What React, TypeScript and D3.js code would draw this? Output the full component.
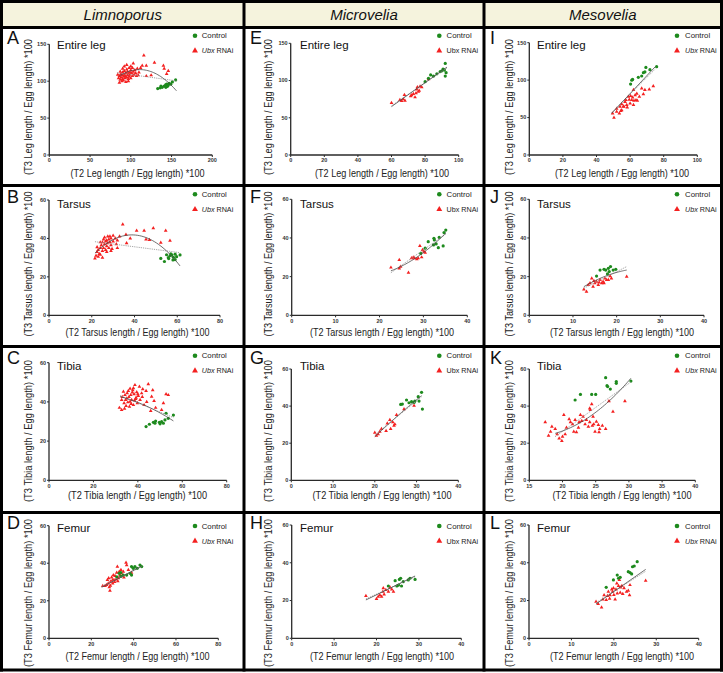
import React from "react";
import * as d3 from "d3";

type P = [number, number];

// ---------- labels ----------
const speciesNames = ["Limnoporus", "Microvelia", "Mesovelia"];
const segmentTitles = ["Entire leg", "Tarsus", "Tibia", "Femur"];
const segmentWords = ["Leg", "Tarsus", "Tibia", "Femur"];
const panelLetters = [
  ["A", "E", "I"],
  ["B", "F", "J"],
  ["C", "G", "K"],
  ["D", "H", "L"],
];
const legendControl = "Control";
const legendUbx = "Ubx";
const legendRnai = "RNAi";

// ---------- axis ticks ----------
const xTicksA = [0, 50, 100, 150, 200];
const yTicksRow1 = [0, 50, 100, 150];
const xTicks0to100 = [0, 20, 40, 60, 80, 100];
const xTicks0to80 = [0, 20, 40, 60, 80];
const xTicks0to40 = [0, 10, 20, 30, 40];
const xTicksK = [15, 20, 25, 30, 35, 40];
const yTicks0to60 = [0, 20, 40, 60];

// ---------- data (T2 ratio, T3 ratio) ----------
const controlA: P[] = [[133,90],[136,91],[137,93.5],[138.5,91.7],[141,93.5],[142.7,95],[143,91.7],[144,96],[146,95],[147,97],[149,96],[151,99],[155,101.7],[145,93]];
const rnaiA: P[] = [[85,104],[86,107],[87,102],[88,105],[88,110],[89,100],[89,108],[90,103],[90,112],[91,106],[91,101],[92,109],[92,114],[93,104],[93,107],[94,111],[94,99],[95,105],[95,116],[96,108],[96,113],[97,103],[97,110],[98,118],[98,106],[99,112],[99,109],[100,115],[100,104],[101,111],[102,107],[102,118],[103,113],[104,109],[105,115],[106,111],[107,107],[108,117],[110,112],[87,113],[90,117],[92,120],[95,122],[97,100],[100,120],[103,124],[109,108],[114,121],[116,135],[119,121],[119,107],[125,108],[129,125],[140,121],[141,117],[144,110],[146,114],[112,118],[84,109],[86,98]];
const fitSolidA: P[] = [[86,107],[115,115.5],[156,87]];
const fitDotA: P[] = [[83,111.5],[156,100.5]];

const controlE: P[] = [[80,98.5],[82,103],[83.3,107.5],[85,106],[87,109],[90,113],[90.7,115.5],[91.5,114],[92,123],[92,106],[92.5,110.6],[89,112]];
const rnaiE: P[] = [[60,70],[65,74],[66,72.5],[67,75],[67.7,80.6],[71.4,79],[73,82],[74,77.5],[74.6,83],[75,88],[75.4,91],[76,85],[77,92],[78,91],[82,101.7],[68,73],[72,80.5],[76.5,86.5]];
const fitSolidE: P[] = [[60,65],[93,118]];
const fitDotE: P[] = [[60,66],[93,117]];

const controlI: P[] = [[60.3,94.8],[61,100],[61.5,101],[64.9,103.7],[66.9,105.5],[67.9,110],[68.8,111],[69.4,117],[71.8,114],[75.8,118]];
const rnaiI: P[] = [[49.6,55.6],[50.4,50],[52,62],[54,64.5],[55,68],[56,65],[57,71],[57.5,73.4],[59,78],[59.5,74],[60.3,78.8],[61,73.4],[61.5,77],[62,86.8],[62.3,72.5],[63,80],[64,82],[64.3,72.5],[65.5,78],[66.9,89],[67.9,81.4],[68.8,86.8],[71.4,87.7],[73.8,92],[52,58],[53.6,55.6],[55,60],[56.3,64.5],[58.3,63.6],[60,69],[62,66.8],[63.5,73.4],[58,67],[54.5,59]];
const fitSolidI: P[] = [[49,55.6],[75,118]];
const fitDotI: P[] = [[49,56.5],[75,115]];

const controlB: P[] = [[52.3,29.6],[54,28],[55.8,30],[56.6,31],[57.4,31.4],[58.2,30.2],[59,29],[59.7,30.5],[61.3,31.4],[56,29.5],[57,32],[58,28.8],[55,31.5],[59,31.8]];
const rnaiB: P[] = [[21.5,29.6],[22,31],[22.5,33],[23,30.5],[23,34],[23.5,32],[24,35],[24,31.5],[24.5,36.5],[25,33.5],[25,38],[25.5,35],[25.5,39.5],[26,37],[26,40.5],[26.5,34],[26.5,38.5],[27,36],[27,39],[27.5,41],[27.5,37.5],[28,35],[28,39.5],[28.5,38],[28.5,41],[29,36.5],[29,40],[29.5,34.5],[30,38.5],[30,41.5],[31,40],[31.5,37],[32,39],[33,41],[34.5,47.3],[36.3,37.5],[36,42],[38,40],[41,44],[44.5,44],[45.4,39.5],[47,39.2],[48.8,45.3],[52.3,37.8],[54.6,44],[56.6,38.8],[24,38],[22.5,35.5],[25,30],[27,33],[29,33.5],[32,35]];
const fitSolidB: P[] = [[21.5,32.3],[40,41.8],[61.3,25.7]];
const fitDotB: P[] = [[21.5,38.3],[61.3,32.6]];

const controlF: P[] = [[29.4,32],[30.4,34.7],[31.1,38.1],[32.3,36.4],[32.4,39.8],[32.5,39],[32.9,36.9],[33.4,35],[33.6,40.3],[34.5,35.9],[34.7,42.8],[35.1,44.1]];
const rnaiF: P[] = [[22.6,24.7],[24.5,28.6],[24.5,24.3],[24.8,25.2],[26.6,22],[27.3,29.5],[27.7,30],[28,29.5],[28.5,29],[28.8,29.5],[29.2,35.9],[29.6,30],[29.8,33.8],[30.1,33],[30.4,32.4]];
const fitSolidF: P[] = [[22.6,23],[28.8,30.5],[35.1,42.5]];
const fitDotF: P[] = [[22.6,22],[35.1,42]];

const controlJ: P[] = [[15.4,20.3],[16.2,23.4],[17.1,23.8],[17.5,23.4],[18.1,24.3],[18.3,22.6],[18.6,25.2],[19.2,23.4],[19.8,23.8],[17.9,21.4]];
const rnaiJ: P[] = [[12.5,13.4],[13.1,12.2],[13.5,15.7],[13.9,16.6],[14.3,19.1],[14.6,14.8],[15,16.6],[15.4,17.4],[15.8,15.7],[16.2,18.3],[16.6,16.6],[16.9,17.4],[17.3,19.1],[17.7,18.3],[18.1,18.3],[18.5,20.3],[18.8,19.1],[17.1,16.6],[16,17],[14.8,17.8],[22.3,20]];
const fitSolidJ: P[] = [[12.5,14.8],[17.5,20.3],[22.3,23.4]];
const fitDotJ: P[] = [[12.5,14],[22.3,25.2]];

const controlC: P[] = [[43.7,27.4],[45.2,28.6],[47,29.6],[47.7,29.1],[49.7,29.6],[50.7,29.9],[51.5,29.1],[52.2,30.8],[53.7,31.6],[52.7,34.2],[56,33.3],[48,30.2],[50,28.8]];
const rnaiC: P[] = [[31.7,37],[32.7,35.9],[32.7,41],[33.5,45.2],[33.8,39.3],[34.2,43.5],[34.7,38],[35,41.8],[35.2,44.5],[35.7,45.6],[36.2,37.6],[36.5,40.1],[36.8,43.5],[37.2,41],[37.5,44.8],[37.7,46],[38,38.4],[38.3,43.9],[38.7,48.6],[39,41.5],[39.2,42.2],[39.5,45],[39.8,39.3],[40.2,43],[40.7,47.8],[41,41],[41.7,44.4],[42.2,46.5],[42.8,38.4],[43.7,45.6],[44.7,49],[45.8,35.4],[46.2,42.7],[46.7,46],[47.3,40.5],[50.7,35.9],[51.5,39.3],[52.7,43.9],[53.7,43.5],[34,36.5],[35.5,39.8],[36,42.5],[37,39],[38.5,40.8],[40,44],[33,42.5],[34.5,41],[36.5,46.8],[38,47],[42,42.5],[44,40],[48,37]];
const fitSolidC: P[] = [[32,42.7],[44,37.8],[56,30.3]];
const fitDotC: P[] = [[32,43.2],[56,32]];

const controlG: P[] = [[26.2,40.9],[26.6,41.1],[27.6,43.3],[28.8,42.4],[29.4,42],[29.6,42.7],[30.4,45.1],[30.6,42.7],[31.2,47.4],[31.4,38.4],[28.2,41.8]];
const rnaiG: P[] = [[20,25.7],[20.4,24],[20.8,24.8],[21.2,26.2],[21.6,27.7],[22.7,26.6],[23,30.7],[23.6,32.5],[23.8,27.7],[24.3,31.3],[24.6,29.5],[24.8,30.2],[25.2,35.2],[27,38.4],[29.4,40.2]];
const fitSolidG: P[] = [[20,23.5],[25.6,35],[31.2,45.6]];
const fitDotG: P[] = [[20,24.5],[31.2,45]];

const controlK: P[] = [[21.9,43.3],[22.7,46.3],[24.4,46.3],[25,46.3],[26.5,55.3],[26.7,51],[26.8,50.5],[27.2,49.2],[28.1,53.2],[28.1,52.3],[30.3,53.5]];
const rnaiK: P[] = [[17.4,31.3],[17.9,24.1],[18.2,26.2],[18.4,28.9],[18.9,27.7],[19.2,24.8],[19.5,22.6],[19.9,21.2],[20,23.5],[20.2,35.2],[20.4,24.8],[20.6,28.4],[21,33],[21.2,31.3],[21.5,30.2],[21.7,26.2],[21.9,32.5],[22.1,25.9],[22.4,28.4],[22.5,31.3],[22.7,35.2],[22.9,32],[23.1,34.3],[23.4,30.2],[23.6,32.5],[23.9,28.9],[24.1,31.3],[24.5,29.5],[24.6,34.3],[24.7,30.2],[24.9,26.2],[25.1,31.6],[25.4,29.8],[25.5,25.9],[25.6,27.7],[26,29.5],[26.5,27.7],[24.1,38.8],[24.4,41],[24.2,37.9],[27,42.7],[27.6,37],[29.4,42.7]];
const fitSolidK: P[] = [[18.9,25.3],[24.6,35.6],[30.3,55]];
const fitDotK: P[] = [[18.9,23.5],[30.3,53]];

const controlD: P[] = [[32,32.8],[33.2,34.6],[33.9,35],[35.1,33.7],[36.7,33.7],[38.3,34.6],[39,33.7],[39.8,37.3],[40.6,38.2],[41.7,37.3],[43,39],[43.8,38.2],[39,38.2],[34,33]];
const rnaiD: P[] = [[25.4,27.9],[26.5,27.9],[27.2,28.4],[27.6,31.1],[28,29.3],[28.5,27.2],[28.8,25.4],[29.1,30.2],[29.6,32.5],[30.1,29.3],[30.4,33.7],[30.7,31.1],[31.2,33.2],[31.7,31.4],[32,35],[32.3,38.2],[32.8,32],[33.2,35.5],[33.5,33.7],[34.3,34.6],[35.1,35.5],[35.4,32.5],[36.4,40.3],[36.7,39],[37.5,36.4],[39,35],[29,28],[30,31],[31,30],[28.2,32],[32.5,30.5],[34,36.5]];
const fitSolidD: P[] = [[24.9,27.2],[43.8,38.5]];
const fitDotD: P[] = [[24.9,27.6],[43.8,38.2]];

const controlH: P[] = [[22.8,27.7],[24.4,30.5],[24.8,27.7],[25.2,28.2],[25.4,31.2],[25.7,31.8],[25.9,27.7],[26.3,30],[27.5,30.9],[27.9,31.8],[29.1,31.2]];
const rnaiH: P[] = [[17.5,22.4],[20,20.8],[20.4,22.1],[20.8,22.9],[21.2,22.1],[21.5,24.7],[21.6,26.5],[21.8,23.3],[22.2,25.6],[22.8,24.7],[23.2,27],[23.6,25.9],[24,24.7]];
const fitSolidH: P[] = [[17.5,20.3],[29.1,33]];
const fitDotH: P[] = [[17.5,20.8],[29.1,32.6]];

const controlL: P[] = [[18.2,27],[19.9,30.9],[20.8,33.5],[21.1,31.8],[21.5,32.3],[23.4,35.3],[23.8,34.8],[24.2,34.1],[24.4,37.9],[24.8,38.3],[25.5,40.6]];
const rnaiL: P[] = [[15.8,19.4],[16.3,18.2],[17.1,16.4],[17.4,20.6],[17.7,22.9],[18.2,20.3],[18.5,22.4],[18.7,24.7],[19.1,22.9],[19.5,25.9],[19.7,24.7],[19.9,26.5],[20.3,20.6],[20.5,25.9],[20.7,29.1],[20.8,23.8],[21.1,27.7],[21.3,30.9],[21.5,24.2],[21.6,27],[21.9,27.7],[22.1,23.5],[22.4,26.5],[23,24.7],[23.4,25.2],[23.7,22.9],[23.8,28.2],[27.5,30.5],[19,21],[20,23]];
const fitSolidL: P[] = [[15.8,18.2],[27.5,36.5]];
const fitDotL: P[] = [[15.8,18.8],[27.5,35.5]];

// ---------- panel specs (row-major) ----------
const panelData = [
  [
    { control: controlA, rnai: rnaiA, solid: fitSolidA, dot: fitDotA, xDomain: [0, 200], yDomain: [0, 150], xTicks: xTicksA, yTicks: yTicksRow1 },
    { control: controlE, rnai: rnaiE, solid: fitSolidE, dot: fitDotE, xDomain: [0, 100], yDomain: [0, 150], xTicks: xTicks0to100, yTicks: yTicksRow1 },
    { control: controlI, rnai: rnaiI, solid: fitSolidI, dot: fitDotI, xDomain: [0, 100], yDomain: [0, 150], xTicks: xTicks0to100, yTicks: yTicksRow1 },
  ],
  [
    { control: controlB, rnai: rnaiB, solid: fitSolidB, dot: fitDotB, xDomain: [0, 80], yDomain: [0, 60], xTicks: xTicks0to80, yTicks: yTicks0to60 },
    { control: controlF, rnai: rnaiF, solid: fitSolidF, dot: fitDotF, xDomain: [0, 40], yDomain: [0, 60], xTicks: xTicks0to40, yTicks: yTicks0to60 },
    { control: controlJ, rnai: rnaiJ, solid: fitSolidJ, dot: fitDotJ, xDomain: [0, 40], yDomain: [0, 60], xTicks: xTicks0to40, yTicks: yTicks0to60 },
  ],
  [
    { control: controlC, rnai: rnaiC, solid: fitSolidC, dot: fitDotC, xDomain: [0, 80], yDomain: [0, 60], xTicks: xTicks0to80, yTicks: yTicks0to60 },
    { control: controlG, rnai: rnaiG, solid: fitSolidG, dot: fitDotG, xDomain: [0, 40], yDomain: [0, 60], xTicks: xTicks0to40, yTicks: yTicks0to60 },
    { control: controlK, rnai: rnaiK, solid: fitSolidK, dot: fitDotK, xDomain: [15, 40], yDomain: [0, 60], xTicks: xTicksK, yTicks: yTicks0to60 },
  ],
  [
    { control: controlD, rnai: rnaiD, solid: fitSolidD, dot: fitDotD, xDomain: [0, 80], yDomain: [0, 60], xTicks: xTicks0to80, yTicks: yTicks0to60 },
    { control: controlH, rnai: rnaiH, solid: fitSolidH, dot: fitDotH, xDomain: [0, 40], yDomain: [0, 60], xTicks: xTicks0to40, yTicks: yTicks0to60 },
    { control: controlL, rnai: rnaiL, solid: fitSolidL, dot: fitDotL, xDomain: [0, 40], yDomain: [0, 60], xTicks: xTicks0to40, yTicks: yTicks0to60 },
  ],
];

// ---------- layout (pixels) ----------
const W = 723;
const H = 673;
const FONT = "'Liberation Sans', Arial, sans-serif";
const plotX = [
  [[49.3, 212.3], [290.7, 458.7], [529.3, 697.3]],
  [[49, 220], [291.7, 467.3], [529.3, 704]],
  [[49, 226.7], [291.3, 458.3], [529.3, 695.3]],
  [[49, 218.3], [291.7, 461.3], [529, 698.7]],
];
const plotY = [
  [[155, 44.3], [155, 43.3], [155, 42.7]],
  [[315.3, 200], [315.3, 199.3], [315.3, 199.3]],
  [[480.3, 362.7], [480.3, 369], [480.3, 369]],
  [[638.3, 525.7], [638.3, 525], [638.3, 525]],
];
const colLetterX = [7, 250, 490];
const colTitleX = [57, 300, 537];
const colLegendMarkX = [195, 439.3, 677];
const colLegendTextX = [201.7, 446.5, 685];
const colYTitleX = [28.5, 268, 509];
const colXTitleX = [137.5, 382, 622];
const rowLetterY = [43.5, 203, 363.5, 529];
const rowTitleY = [49, 207.5, 369.5, 532];
const rowLegendY = [35.7, 194.3, 355.7, 526];
const rowYTitleY = [107, 264, 431, 593];
const rowXTitleY = [173, 332.3, 495.7, 656];
const xTitleLen = [134, 144, 139, 144];
const yTitleLen = [136, 145, 142, 148];
const colDividers = [1.5, 244, 484, 721.5];
const rowDividers = [1.5, 27.5, 185.5, 346.5, 512.5, 670];

const RED = "#f42020";
const GREEN = "#1d8a1d";

function fitPath(pts: P[], x: d3.ScaleLinear<number, number>, y: d3.ScaleLinear<number, number>) {
  const line = d3.line<P>().x((d) => x(d[0])).y((d) => y(d[1]));
  if (pts.length < 3) return line(pts) || "";
  // quadratic through the three read points
  const [[x0, y0], [x1, y1], [x2, y2]] = pts;
  const f = (t: number) =>
    (y0 * (t - x1) * (t - x2)) / ((x0 - x1) * (x0 - x2)) +
    (y1 * (t - x0) * (t - x2)) / ((x1 - x0) * (x1 - x2)) +
    (y2 * (t - x0) * (t - x1)) / ((x2 - x0) * (x2 - x1));
  const samples: P[] = d3.range(0, 41).map((i) => {
    const t = x0 + ((x2 - x0) * i) / 40;
    return [t, f(t)];
  });
  return line(samples) || "";
}

const pointTriangle = d3.symbol().type(d3.symbolTriangle).size(6)() || "";
const legendTriangle = d3.symbol().type(d3.symbolTriangle).size(15)() || "";

function Panel({ r, c }: { r: number; c: number }) {
  const pd = panelData[r][c];
  const x = d3.scaleLinear().domain(pd.xDomain).range(plotX[r][c]);
  const y = d3.scaleLinear().domain(pd.yDomain).range(plotY[r][c]);
  const x0 = x(pd.xDomain[0]);
  const x1 = x(pd.xDomain[1]);
  const y0 = y(pd.yDomain[0]);
  const y1 = y(pd.yDomain[1]);
  const italicUbx = c !== 1;
  const axisColor = "#2a2a2a";
  const ly = rowLegendY[r];
  return (
    <g>
      <text x={colLetterX[c]} y={rowLetterY[r]} fontFamily={FONT} fontSize={18} fill="#111">
        {panelLetters[r][c]}
      </text>
      <text x={colTitleX[c]} y={rowTitleY[r]} fontFamily={FONT} fontSize={11.5} fill="#111">
        {segmentTitles[r]}
      </text>
      {/* legend */}
      <circle cx={colLegendMarkX[c]} cy={ly} r={2.3} fill={GREEN} />
      <text x={colLegendTextX[c]} y={ly} dy="0.35em" fontFamily={FONT} fontSize={7.8} fill="#222">
        {legendControl}
      </text>
      <path d={legendTriangle} transform={`translate(${colLegendMarkX[c]},${ly + 15})`} fill={RED} />
      <text x={colLegendTextX[c]} y={ly + 15} dy="0.35em" fontFamily={FONT} fontSize={7.2} fill="#222">
        <tspan fontStyle={italicUbx ? "italic" : "normal"}>{legendUbx}</tspan> {legendRnai}
      </text>
      {/* axis titles */}
      <text
        transform={`translate(${colYTitleX[c]},${rowYTitleY[r]}) rotate(-90)`}
        textAnchor="middle"
        dy="0.35em"
        fontFamily={FONT}
        fontSize={10}
        fill="#222"
        textLength={yTitleLen[r]}
        lengthAdjust="spacingAndGlyphs"
      >
        {`(T3 ${segmentWords[r]} length / Egg length) *100`}
      </text>
      <text
        x={colXTitleX[c]}
        y={rowXTitleY[r]}
        textAnchor="middle"
        dy="0.35em"
        fontFamily={FONT}
        fontSize={10}
        fill="#222"
        textLength={xTitleLen[r]}
        lengthAdjust="spacingAndGlyphs"
      >
        {`(T2 ${segmentWords[r]} length / Egg length) *100`}
      </text>
      {/* axes */}
      <line x1={x0} x2={x1} y1={y0} y2={y0} stroke={axisColor} strokeWidth={1.3} />
      <line x1={x0} x2={x0} y1={y0} y2={y1} stroke={axisColor} strokeWidth={1.3} />
      {pd.xTicks.map((t) => (
        <g key={"xt" + t}>
          <line x1={x(t)} x2={x(t)} y1={y0} y2={y0 + 2} stroke={axisColor} strokeWidth={1} />
          <text x={x(t)} y={y0 + 5.5} dy="0.35em" textAnchor="middle" fontFamily={FONT} fontSize={5.5} fontWeight="bold" fill="#333">
            {t}
          </text>
        </g>
      ))}
      {pd.yTicks.map((t) => (
        <g key={"yt" + t}>
          <line x1={x0 - 2} x2={x0} y1={y(t)} y2={y(t)} stroke={axisColor} strokeWidth={1} />
          <text x={x0 - 3} y={y(t)} dy="0.35em" textAnchor="end" fontFamily={FONT} fontSize={5.5} fontWeight="bold" fill="#333">
            {t}
          </text>
        </g>
      ))}
      {/* points */}
      {pd.rnai.map((d, i) => (
        <path key={"r" + i} d={pointTriangle} transform={`translate(${x(d[0])},${y(d[1])})`} fill={RED} />
      ))}
      {pd.control.map((d, i) => (
        <circle key={"c" + i} cx={x(d[0])} cy={y(d[1])} r={1.6} fill={GREEN} />
      ))}
      {/* fits */}
      <path d={fitPath(pd.dot, x, y)} fill="none" stroke="#9a9a9a" strokeWidth={0.9} strokeDasharray="1.2,1" />
      <path d={fitPath(pd.solid, x, y)} fill="none" stroke="#4a4a4a" strokeWidth={0.8} />
    </g>
  );
}

export default function App() {
  const colCenters = [0, 1, 2].map((i) => (colDividers[i] + colDividers[i + 1]) / 2);
  return (
    <svg width={W} height={H} style={{ position: "absolute", left: 0, top: 0, background: "#fff" }}>
      <rect x={0} y={0} width={W} height={H} fill="#fff" />
      <rect x={0} y={0} width={W} height={rowDividers[1]} fill="#f5f3dd" />
      {speciesNames.map((s, i) => (
        <text key={s} x={colCenters[i]} y={19.5} textAnchor="middle" fontFamily={FONT} fontSize={15} fontStyle="italic" fill="#111">
          {s}
        </text>
      ))}
      {[0, 1, 2, 3].map((r) => [0, 1, 2].map((c) => <Panel key={`${r}-${c}`} r={r} c={c} />))}
      {rowDividers.map((yy, i) => (
        <line key={"h" + i} x1={0} x2={W} y1={yy} y2={yy} stroke="#000" strokeWidth={3} />
      ))}
      {colDividers.map((xx, i) => (
        <line key={"v" + i} x1={xx} x2={xx} y1={0} y2={rowDividers[5] + 1.5} stroke="#000" strokeWidth={3} />
      ))}
    </svg>
  );
}
